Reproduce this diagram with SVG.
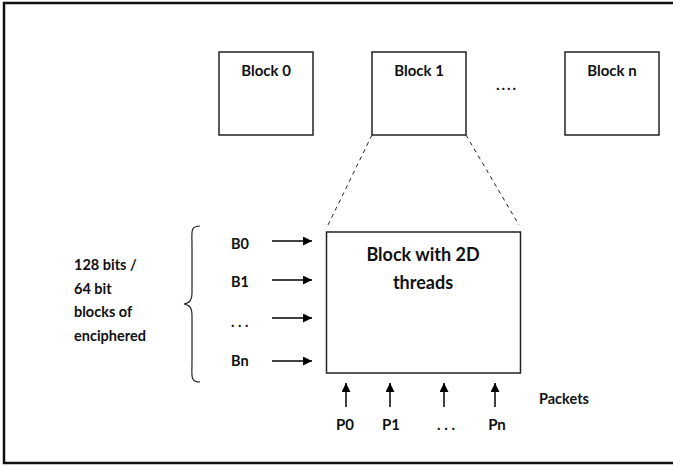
<svg xmlns="http://www.w3.org/2000/svg" width="673" height="466" viewBox="0 0 673 466">
<defs>
<marker id="ah" viewBox="0 0 10 10" refX="10" refY="5" markerWidth="9" markerHeight="9" markerUnits="userSpaceOnUse" orient="auto">
<path d="M0,0 L10,5 L0,10 z" fill="#000"/>
</marker>
</defs>
<style>
text{font-family:Lato,"Liberation Sans",sans-serif;font-weight:bold;fill:#111}
.box{fill:#fff;stroke:#222;stroke-width:1.5}
.lbl{font-size:15px;text-anchor:middle}
.big{font-size:18px;text-anchor:middle}
.side{font-size:14.5px}
.arr{stroke:#000;stroke-width:1.5;fill:none;marker-end:url(#ah)}
.dash{stroke:#222;stroke-width:1;stroke-dasharray:4,4;fill:none}
</style>
<rect width="673" height="466" fill="#fff"/>
<path d="M673,3 H4 V463 H673" fill="none" stroke="#111" stroke-width="2.5"/>
<g id="block0"><rect class="box" x="219" y="52" width="94" height="83"/><text class="lbl" x="266" y="76">Block 0</text></g>
<g id="block1"><rect class="box" x="372" y="52" width="94" height="83"/><text class="lbl" x="419" y="76">Block 1</text></g>
<g id="blockn"><rect class="box" x="565" y="52" width="94" height="83"/><text class="lbl" x="612" y="76">Block n</text></g>
<g id="dots-top"><text class="lbl" x="507" y="90" letter-spacing="2">....</text></g>
<g id="block2d"><rect class="box" x="326.5" y="232" width="194" height="141"/><text class="big" x="423" y="261">Block with 2D</text><text class="big" x="423" y="289">threads</text></g>
<g id="side-label">
<path d="M200,226 C190,226 192,232 192,245 L192,292 C192,300 190,303 184,304 C190,305 192,308 192,316 L192,363 C192,376 190,382 200,382" fill="none" stroke="#222" stroke-width="1.2"/>
<text class="side" x="74" y="270">128 bits /</text>
<text class="side" x="74" y="294">64 bit</text>
<text class="side" x="74" y="317">blocks of</text>
<text class="side" x="74" y="341">enciphered</text>
</g>
<g id="b-labels">
<text class="side" x="231" y="249">B0</text>
<text class="side" x="231" y="287">B1</text>
<text class="side" x="231" y="327">. . .</text>
<text class="side" x="231" y="366">Bn</text>
</g>
<g id="p-labels">
<text class="lbl" x="345" y="430">P0</text>
<text class="lbl" x="391" y="430">P1</text>
<text class="lbl" x="446" y="430">. . .</text>
<text class="lbl" x="497" y="430">Pn</text>
<text class="side" x="539" y="404">Packets</text>
</g>
<g id="connectors">
<line class="dash" x1="372" y1="135" x2="328" y2="225"/>
<line class="dash" x1="466" y1="135" x2="519" y2="225"/>
<line class="arr" x1="272" y1="241" x2="312" y2="241"/>
<line class="arr" x1="272" y1="280" x2="312" y2="280"/>
<line class="arr" x1="272" y1="318" x2="312" y2="318"/>
<line class="arr" x1="272" y1="361" x2="312" y2="361"/>
<line class="arr" x1="346" y1="407" x2="346" y2="383"/>
<line class="arr" x1="390" y1="407" x2="390" y2="383"/>
<line class="arr" x1="444" y1="407" x2="444" y2="383"/>
<line class="arr" x1="495" y1="407" x2="495" y2="383"/>
</g>
</svg>
